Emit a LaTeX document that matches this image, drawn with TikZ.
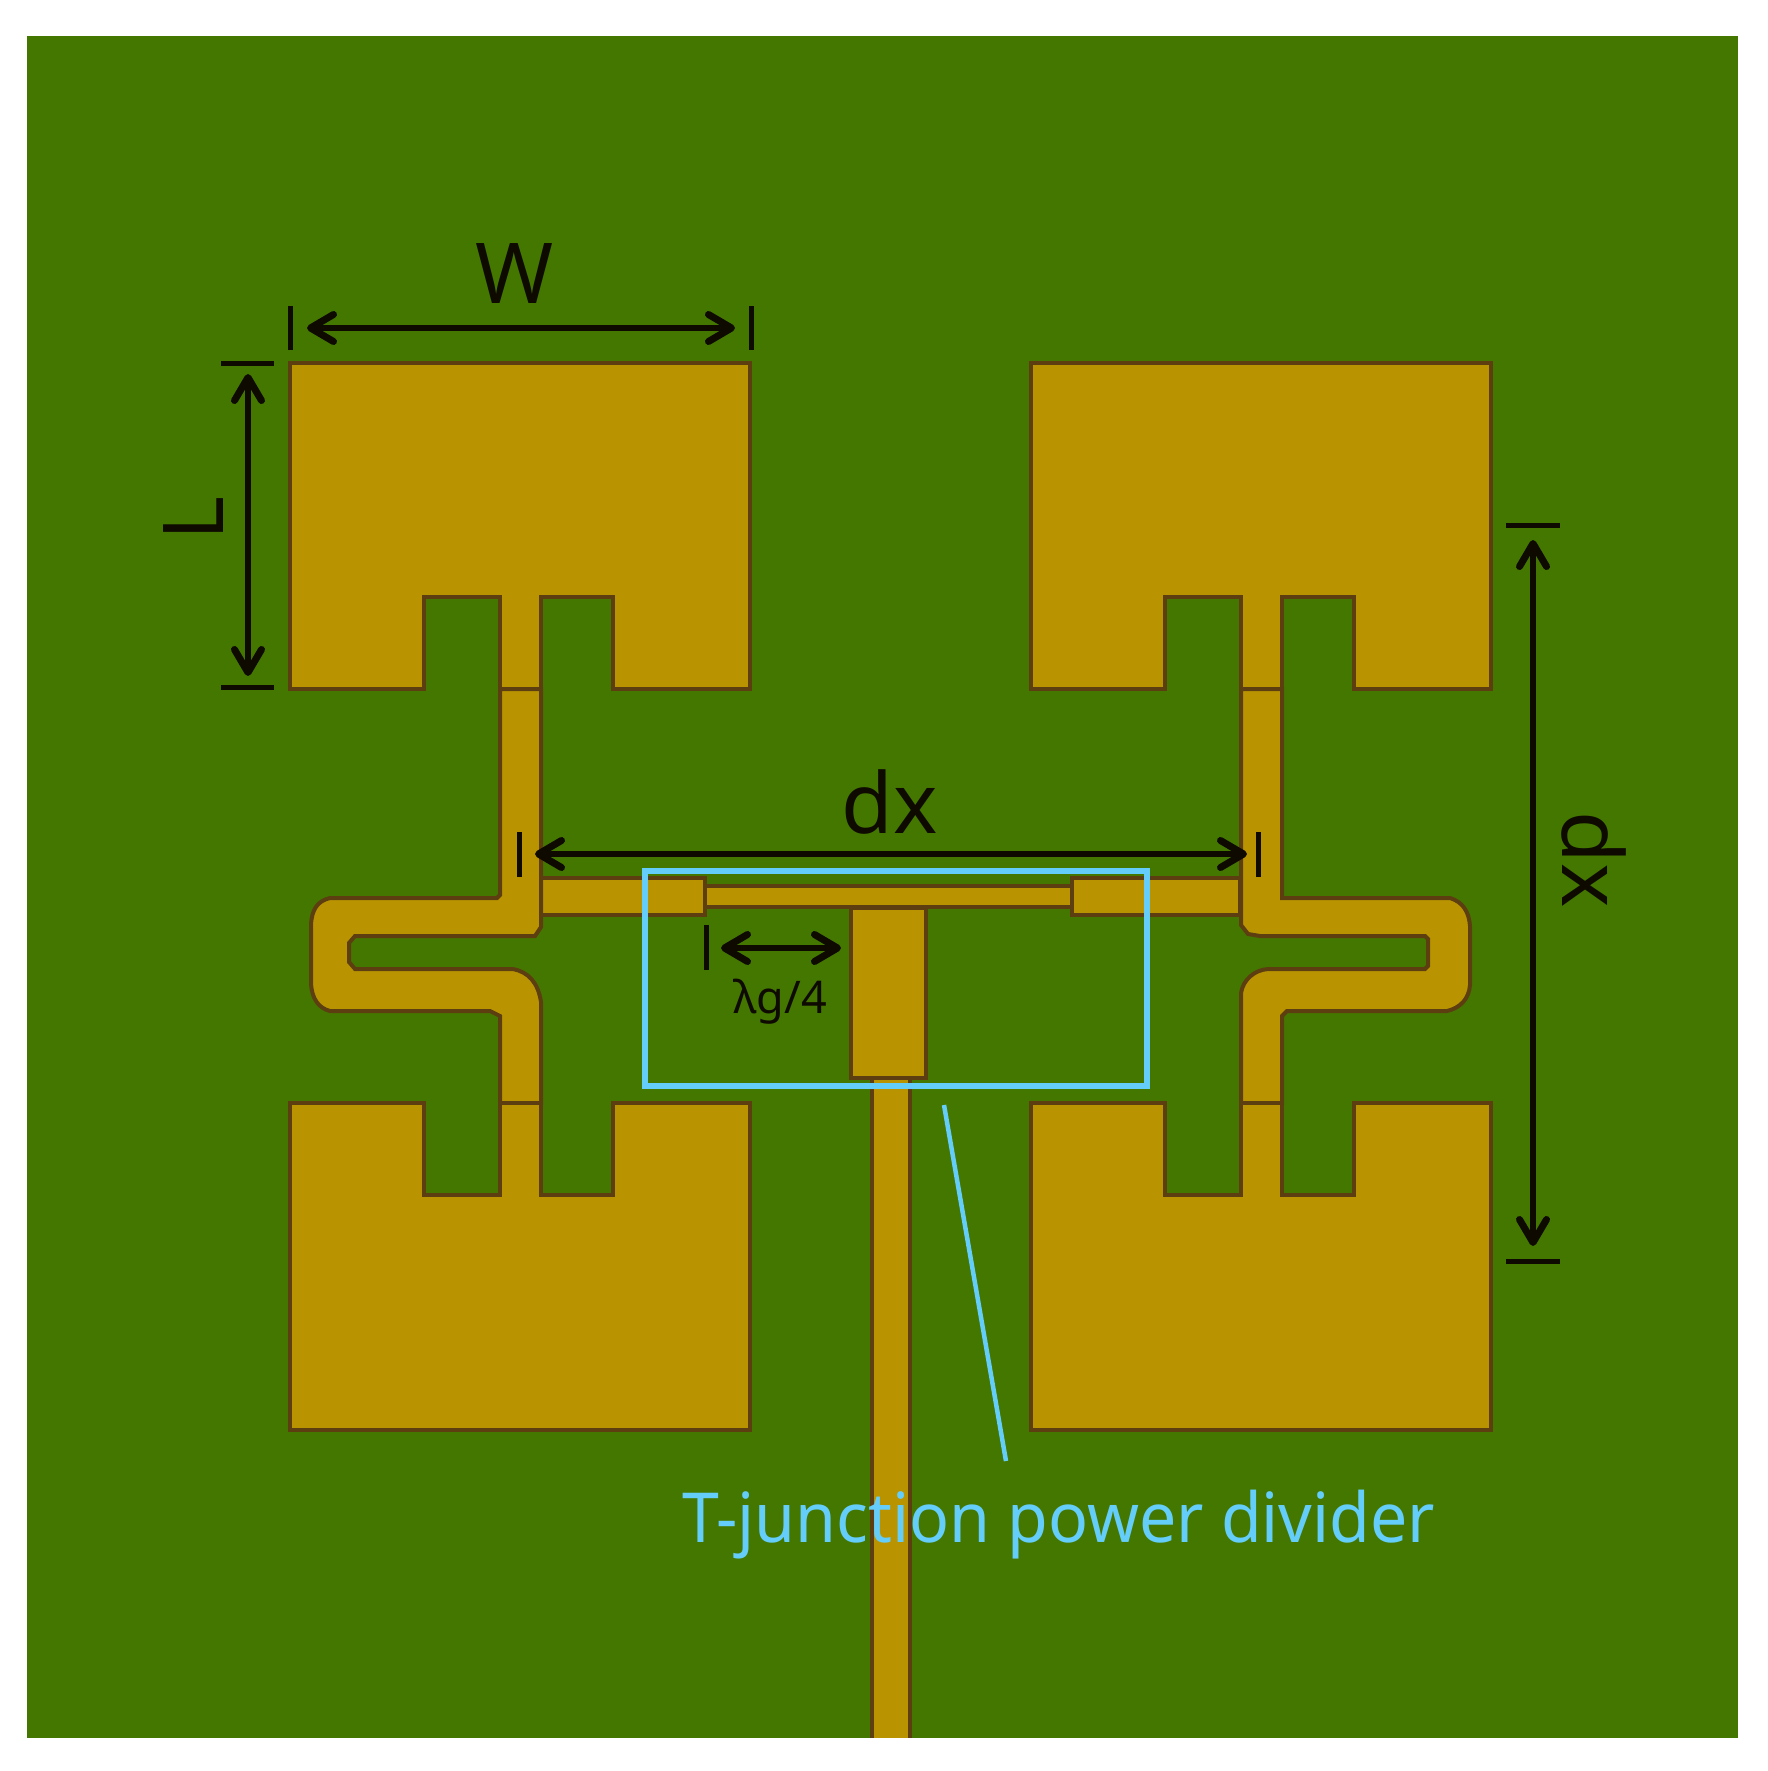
\documentclass[tikz,border=0pt]{standalone}
\usepackage{fontspec}
\setmainfont{Noto Sans}
\newfontfamily\titlefont[FakeStretch=0.96]{Noto Sans}
\usetikzlibrary{arrows.meta}
\definecolor{board}{RGB}{68,119,0}
\definecolor{metal}{RGB}{186,148,0}
\definecolor{edgec}{RGB}{92,62,16}
\definecolor{ink}{RGB}{14,10,0}
\definecolor{note}{RGB}{100,205,250}
\tikzset{
  cu/.style={fill=metal,draw=edgec,line width=4pt,line join=miter},
  barb/.tip={Straight Barb[length=23pt,width=27pt,line width=7pt,round]},
  dim/.style={draw=ink,line width=5.5pt,barb-barb},
  tick/.style={draw=ink,line width=5pt},
  notebox/.style={draw=note,line width=5.5pt},
  dimlabel/.style={text=ink,inner sep=0pt,font=\fontsize{84}{84}\selectfont},
}
\begin{document}
\begin{tikzpicture}[x=1pt,y=-1pt]
\useasboundingbox (0,0) rectangle (1768,1771);
\fill[white] (0,0) rectangle (1768,1771);
\fill[board] (27,36) rectangle (1738,1738);
% feed line and T junction
\draw[cu] (872,1738) -- (872,1078) -- (910,1078) -- (910,1738);
\draw[cu] (851,908) rectangle (926,1078);
\draw[cu] (705,886) rectangle (1072,907);
\draw[cu] (541,878) rectangle (705,915);
\draw[cu] (1072,878) rectangle (1240,915);
% left meander
\draw[cu] (500,689) -- (500,895) -- (497,898) -- (330,898) .. controls (317,901) and (312,910) .. (311,924) -- (311,984) .. controls (312,998) and (318,1008) .. (330,1011) -- (490,1011) -- (500,1016) -- (500,1103)
  -- (541,1103) -- (541,1002) .. controls (538,982) and (528,972) .. (513,969) -- (355,969) -- (349,962) -- (349,943) -- (355,936) -- (535,936) -- (541,927) -- (541,689) -- cycle;
% right meander
\draw[cu] (1282,689) -- (1282,898) -- (1450,898) .. controls (1463,902) and (1469,912) .. (1470,926) -- (1470,985) .. controls (1469,999) and (1460,1008) .. (1447,1011) -- (1287,1011) -- (1282,1016) -- (1282,1103)
  -- (1241,1103) -- (1241,993) .. controls (1243,980) and (1254,970) .. (1268,969) -- (1425,969) -- (1428,966) -- (1428,939) -- (1425,936) -- (1260,936) -- (1248,934) -- (1241,925) -- (1241,689) -- cycle;
% upper patches
\draw[cu] (290,363) -- (750,363) -- (750,689) -- (613,689) -- (613,597) -- (541,597) -- (541,689) -- (500,689) -- (500,597) -- (424,597) -- (424,689) -- (290,689) -- cycle;
\draw[cu] (1031,363) -- (1491,363) -- (1491,689) -- (1354,689) -- (1354,597) -- (1282,597) -- (1282,689) -- (1241,689) -- (1241,597) -- (1165,597) -- (1165,689) -- (1031,689) -- cycle;
% lower patches
\draw[cu] (290,1430) -- (750,1430) -- (750,1103) -- (613,1103) -- (613,1195) -- (541,1195) -- (541,1103) -- (500,1103) -- (500,1195) -- (424,1195) -- (424,1103) -- (290,1103) -- cycle;
\draw[cu] (1031,1430) -- (1491,1430) -- (1491,1103) -- (1354,1103) -- (1354,1195) -- (1282,1195) -- (1282,1103) -- (1241,1103) -- (1241,1195) -- (1165,1195) -- (1165,1103) -- (1031,1103) -- cycle;
% blue annotation
\draw[notebox] (645,871) rectangle (1147,1086);
\draw[note,line width=4.5pt] (944,1105) -- (1006,1461);
\node[text=note,inner sep=0pt,anchor=base west,font=\titlefont\fontsize{69}{69}\selectfont] (title) at (682,1542) {T-junction power divider};
% W
\draw[tick] (290,306) -- (290,350);
\draw[tick] (751,306) -- (751,350);
\draw[dim] (307,328) -- (735,328);
\node[dimlabel,anchor=base] (wlab) at (515,303) {W};
% L
\draw[tick] (221,363) -- (274,363);
\draw[tick] (221,687) -- (274,687);
\draw[dim] (248,374) -- (248,676);
\node[dimlabel,anchor=base,rotate=90] (llab) at (223,518) {L};
% dx
\draw[tick] (519,832) -- (519,877);
\draw[tick] (1258,832) -- (1258,877);
\draw[dim] (535,854) -- (1247,854);
\node[dimlabel,anchor=base] (dxlab) at (890,833) {dx};
% dp
\draw[tick] (1506,525) -- (1560,525);
\draw[tick] (1506,1261) -- (1560,1261);
\draw[dim] (1533,540) -- (1533,1246);
\node[dimlabel,anchor=base,rotate=-90] (dplab) at (1562,860) {dx};
% lambda
\draw[tick] (706,925) -- (706,970);
\draw[dim] (721,948) -- (841,948);
\node[text=ink,inner sep=0pt,anchor=base,font=\fontsize{45}{45}\selectfont] (lam) at (780,1013) {λg/4};
\end{tikzpicture}
\end{document}
